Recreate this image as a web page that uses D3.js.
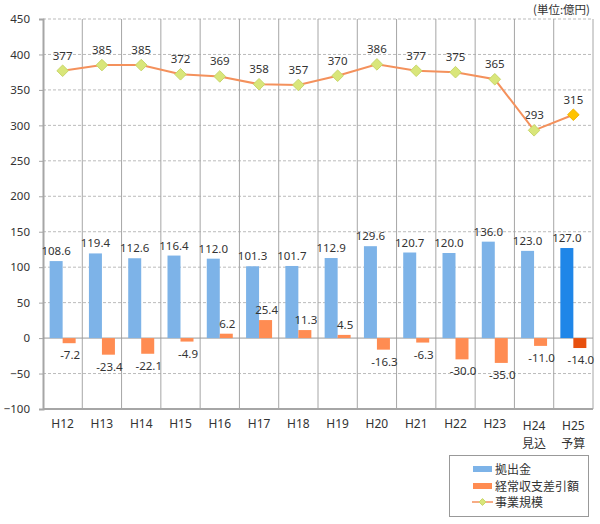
<!DOCTYPE html>
<html><head><meta charset="utf-8">
<script src="https://cdn.jsdelivr.net/npm/d3@7"></script>
<style>body{margin:0;background:#fff;}svg{font-family:"Noto Sans CJK JP","Noto Sans",sans-serif;}</style>
</head><body><svg id="c" width="600" height="524"></svg>
<script>
const categories = ["H12","H13","H14","H15","H16","H17","H18","H19","H20","H21","H22","H23","H24","H25"];
const subLabels = ["","","","","","","","","","","","","見込","予算"];
const contribution = [108.6,119.4,112.6,116.4,112.0,101.3,101.7,112.9,129.6,120.7,120.0,136.0,123.0,127.0];
const balance = [-7.2,-23.4,-22.1,-4.9,6.2,25.4,11.3,4.5,-16.3,-6.3,-30.0,-35.0,-11.0,-14.0];
const scale = [377,385,385,372,369,358,357,370,386,377,375,365,293,315];
const yTicks = [-100,-50,0,50,100,150,200,250,300,350,400,450];
const seriesNames = ["拠出金","経常収支差引額","事業規模"];

const NUMFONT = "'Noto Sans',sans-serif";
const svg = d3.select("#c");
const L=43, R=593, T=19, B=409;
const x = d3.scaleBand().domain(categories).range([L,R]);
const y = d3.scaleLinear().domain([-100,450]).range([B,T]);
const bw = 13;
const last = categories.length-1;

svg.append("g").selectAll("line").data(yTicks.filter(d=>d!==-100&&d!==0)).join("line")
  .attr("x1",L).attr("x2",R).attr("y1",d=>y(d)).attr("y2",d=>y(d))
  .attr("stroke","#bbb").attr("stroke-dasharray","3,2").attr("stroke-width",1);
svg.append("g").selectAll("line").data(categories.slice(1)).join("line")
  .attr("x1",d=>x(d)).attr("x2",d=>x(d)).attr("y1",T).attr("y2",B)
  .attr("stroke","#a6a6a6").attr("stroke-width",1);
svg.append("line").attr("x1",R).attr("x2",R).attr("y1",T).attr("y2",B).attr("stroke","#a6a6a6");

const ya = svg.append("g").attr("transform",`translate(${L},0)`)
  .call(d3.axisLeft(y).tickValues(yTicks).tickSize(4).tickPadding(9));
ya.select(".domain").attr("stroke","#a6a6a6").attr("stroke-width",2);
ya.selectAll(".tick line").attr("stroke","#a6a6a6");
ya.selectAll("text").attr("font-size",11.5).attr("fill","#333").attr("font-family",NUMFONT);
svg.append("line").attr("x1",L).attr("x2",R).attr("y1",B).attr("y2",B).attr("stroke","#a6a6a6").attr("stroke-width",2);
svg.append("line").attr("x1",L).attr("x2",R).attr("y1",y(0)).attr("y2",y(0)).attr("stroke","#999").attr("stroke-width",1);

const cx = d=>x(d)+x.bandwidth()/2;

svg.append("g").selectAll("rect").data(contribution).join("rect")
  .attr("x",(d,i)=>cx(categories[i])-bw).attr("width",bw)
  .attr("y",d=>y(d)).attr("height",d=>y(0)-y(d))
  .attr("fill",(d,i)=>i===last?"#1f86e8":"#7db3e8");
svg.append("g").selectAll("rect").data(balance).join("rect")
  .attr("x",(d,i)=>cx(categories[i])).attr("width",bw)
  .attr("y",d=>y(Math.max(0,d))).attr("height",d=>Math.abs(y(0)-y(d)))
  .attr("fill",(d,i)=>i===last?"#e8500e":"#ff8c52");

const lab = svg.append("g").attr("font-size",11.5).attr("fill","#333").attr("text-anchor","middle").attr("font-family",NUMFONT);
lab.selectAll(".bl").data(contribution).join("text")
  .attr("x",(d,i)=>cx(categories[i])-bw/2).attr("y",d=>y(d)-6).text(d=>d.toFixed(1));
lab.selectAll(".ol").data(balance).join("text")
  .attr("x",(d,i)=>cx(categories[i])+bw/2+1).attr("y",d=>d>=0?y(d)-6:y(d)+16).text(d=>d.toFixed(1));

const line = d3.line().x((d,i)=>cx(categories[i])).y(d=>y(d));
svg.append("path").datum(scale).attr("d",line).attr("fill","none").attr("stroke","#f4915c").attr("stroke-width",2);
svg.append("g").selectAll("path").data(scale).join("path")
  .attr("d",d3.symbol(d3.symbolDiamond2,85))
  .attr("transform",(d,i)=>`translate(${cx(categories[i])},${y(d)})`)
  .attr("fill",(d,i)=>i===last?"#ffc400":"#d9e67a")
  .attr("stroke",(d,i)=>i===last?"#f0b400":"#c8d66a").attr("stroke-width",1);
lab.selectAll(".ll").data(scale).join("text")
  .attr("x",(d,i)=>cx(categories[i])).attr("y",d=>y(d)-11).text(d=>d);

const xl = svg.append("g").attr("font-size",12).attr("fill","#333").attr("text-anchor","middle");
xl.selectAll(".c").data(categories).join("text").attr("x",d=>cx(d)).attr("y",(d,i)=>i>=12?430:428)
  .attr("font-family",NUMFONT).text(d=>d);
xl.selectAll(".s").data(subLabels).join("text").attr("x",(d,i)=>cx(categories[i])).attr("y",448).text(d=>d);

svg.append("text").attr("x",590).attr("y",14).attr("text-anchor","end").attr("font-size",11.5).attr("fill","#333").text("(単位:億円)");

const lg = svg.append("g");
lg.append("rect").attr("x",449.5).attr("y",455.5).attr("width",139).attr("height",61).attr("fill","#fff").attr("stroke","#999");
const ly = [469,486,502];
lg.append("rect").attr("x",473).attr("y",ly[0]-3).attr("width",19).attr("height",6).attr("fill","#7db3e8");
lg.append("rect").attr("x",473).attr("y",ly[1]-3).attr("width",19).attr("height",6).attr("fill","#ff8c52");
lg.append("line").attr("x1",472).attr("x2",493).attr("y1",ly[2]).attr("y2",ly[2]).attr("stroke","#f4915c").attr("stroke-width",1.5);
lg.append("path").attr("d",d3.symbol(d3.symbolDiamond2,30)).attr("transform",`translate(482.5,${ly[2]})`).attr("fill","#d9e67a").attr("stroke","#c8d66a");
lg.selectAll("text").data(seriesNames).join("text").attr("x",495).attr("y",(d,i)=>ly[i]+5)
  .attr("font-size",12).attr("fill","#333").text(d=>d);
</script></body></html>
